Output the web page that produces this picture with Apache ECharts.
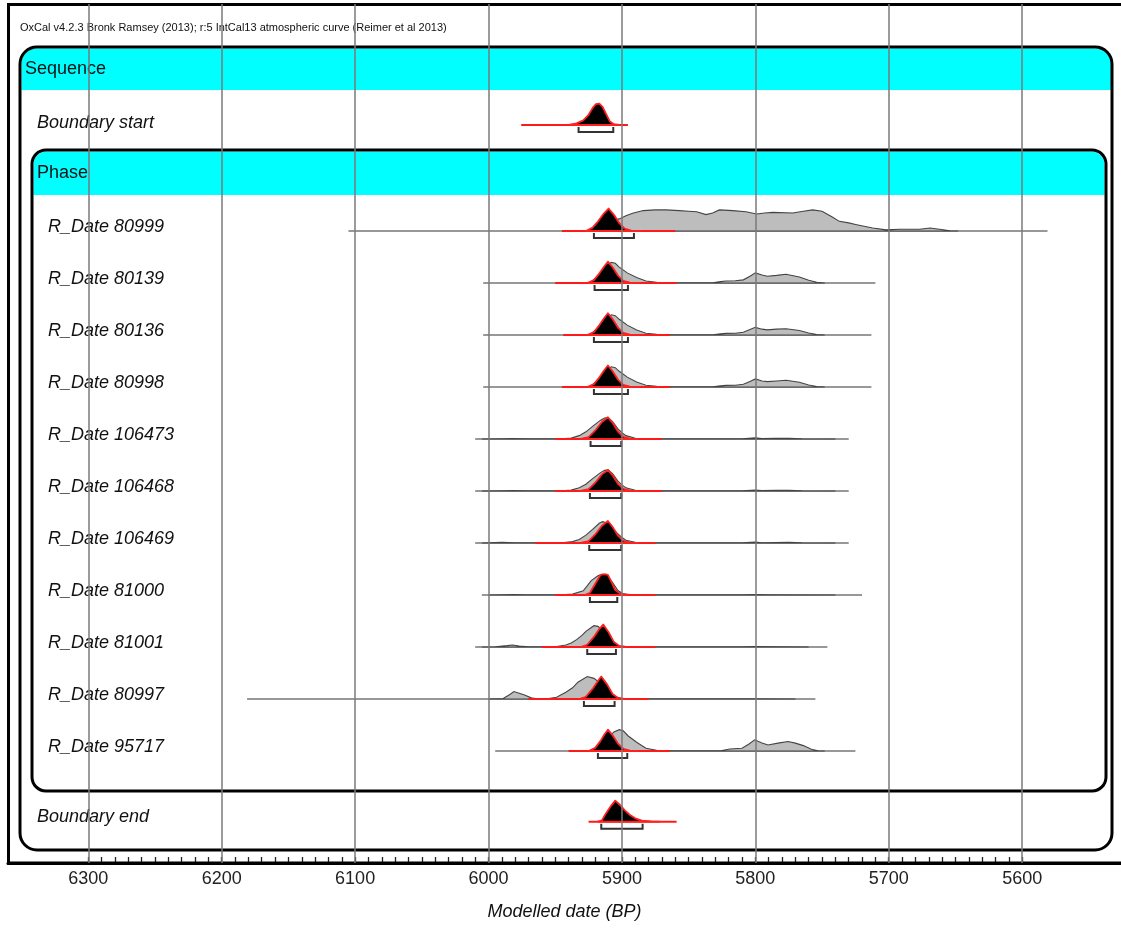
<!DOCTYPE html>
<html>
<head>
<meta charset="utf-8">
<title>OxCal sequence plot</title>
<style>
  html, body { margin: 0; padding: 0; background: #ffffff; }
  #chart { width: 1121px; height: 928px; }
</style>
<script src="https://cdn.jsdelivr.net/npm/echarts@6.0.0/dist/echarts.min.js"></script>
</head>
<body>
<div id="chart"></div>
<script>
// ---- axis ----
const tickLabels = [6300, 6200, 6100, 6000, 5900, 5800, 5700, 5600];

// ---- rows, top to bottom ----
const rowNames = [
  'Boundary start',
  'R_Date 80999', 'R_Date 80139', 'R_Date 80136', 'R_Date 80998',
  'R_Date 106473', 'R_Date 106468', 'R_Date 106469', 'R_Date 81000',
  'R_Date 81001', 'R_Date 80997', 'R_Date 95717',
  'Boundary end'
];

// full extent of each unmodelled (likelihood) distribution, cal BP
const lineRange = [
  null,
  [6105, 5581], [6004, 5710], [6004, 5713], [6004, 5713],
  [6010, 5730], [6010, 5730], [6010, 5730], [6005, 5720],
  [6010, 5746], [6181, 5755], [5995, 5725],
  null
];

// full extent of each modelled (posterior) distribution, cal BP
const postRange = [
  [5975.5, 5895.5],
  [5945, 5860], [5950, 5859], [5944, 5864], [5945, 5864],
  [5950, 5870], [5950, 5870], [5965, 5875], [5950, 5875],
  [5960, 5875], [5970, 5880], [5940, 5864],
  [5925, 5859]
];

// 68.2% highest posterior density ranges, cal BP
const hpdRange = [
  [5932.5, 5906.5],
  [5921, 5891], [5920.5, 5895.5], [5921, 5895.5], [5921, 5895.5],
  [5923.5, 5900.5], [5924, 5900.5], [5924.5, 5900.5], [5924, 5903.5],
  [5926, 5904.5], [5928.5, 5905.5], [5918, 5896],
  [5915.5, 5884.5]
];

// ---- unmodelled probability (relative), [cal BP, p] ----
const like80999 = [[5924,0],[5918,0.3],[5912,0.45],[5906,0.5],[5902,0.54],[5897,0.68],[5892,0.79],[5884,0.91],[5875,0.94],[5867,0.94],[5857,0.91],[5850,0.88],[5844,0.86],[5837,0.73],[5832,0.8],[5827,0.94],[5817,0.91],[5807,0.86],[5799,0.76],[5793,0.8],[5787,0.83],[5772,0.8],[5764,0.88],[5757,0.94],[5750,0.88],[5742,0.61],[5737,0.43],[5730,0.36],[5724,0.28],[5712,0.13],[5702,0.05],[5692,0.08],[5677,0.08],[5669,0.13],[5662,0.08],[5654,0.01],[5648,0]];
const like80139 = [[5924,0],[5918,0.3],[5913,0.7],[5908,0.92],[5905,0.88],[5902,0.71],[5896,0.45],[5889,0.24],[5882,0.09],[5874,0.03],[5862,0.01],[5832,0.01],[5826,0.06],[5822,0.09],[5815,0.1],[5809,0.14],[5804,0.3],[5800,0.45],[5795,0.36],[5791,0.3],[5784,0.34],[5777,0.39],[5767,0.27],[5760,0.12],[5754,0.03],[5748,0]];
const like80136 = [[5924,0],[5918,0.3],[5913,0.68],[5908,0.9],[5905,0.86],[5902,0.7],[5896,0.44],[5889,0.22],[5882,0.08],[5874,0.03],[5862,0.01],[5832,0.01],[5826,0.05],[5822,0.07],[5815,0.08],[5809,0.12],[5804,0.24],[5800,0.34],[5795,0.26],[5791,0.23],[5784,0.26],[5777,0.28],[5767,0.2],[5760,0.09],[5754,0.02],[5748,0]];
const like80998 = [[5924,0],[5918,0.3],[5913,0.68],[5908,0.9],[5905,0.86],[5902,0.7],[5896,0.44],[5889,0.22],[5882,0.08],[5874,0.03],[5862,0.01],[5832,0.01],[5826,0.05],[5822,0.07],[5815,0.08],[5809,0.12],[5804,0.25],[5800,0.36],[5795,0.27],[5791,0.24],[5784,0.27],[5777,0.3],[5767,0.21],[5760,0.09],[5754,0.02],[5748,0]];
const like106473 = [[6005,0],[5990,0.01],[5982,0.02],[5970,0.01],[5945,0.01],[5938,0.04],[5932,0.15],[5927,0.32],[5922,0.56],[5916,0.84],[5913,0.94],[5910.5,0.96],[5907,0.78],[5903,0.45],[5900,0.28],[5897,0.15],[5890,0.03],[5880,0.01],[5810,0.01],[5800,0.05],[5795,0.02],[5785,0.03],[5775,0.03],[5765,0.01],[5740,0]];
const like106468 = [[6005,0],[5990,0.01],[5982,0.02],[5970,0.01],[5945,0.01],[5938,0.04],[5932,0.14],[5927,0.3],[5922,0.55],[5916,0.82],[5913,0.92],[5910.5,0.94],[5907,0.77],[5903,0.44],[5900,0.27],[5897,0.14],[5890,0.03],[5880,0.01],[5810,0.01],[5800,0.04],[5795,0.02],[5785,0.03],[5775,0.03],[5765,0.01],[5740,0]];
const like106469 = [[6005,0],[5990,0.03],[5980,0.01],[5945,0.01],[5937,0.06],[5932,0.16],[5927,0.35],[5922,0.61],[5917,0.88],[5914.5,0.95],[5912,0.9],[5908,0.7],[5904,0.46],[5900,0.25],[5897,0.12],[5890,0.03],[5880,0.01],[5810,0.01],[5800,0.04],[5795,0.01],[5785,0.02],[5775,0.03],[5765,0.01],[5740,0]];
const like81000 = [[6000,0],[5990,0.01],[5981,0.02],[5972,0.01],[5945,0.01],[5937,0.04],[5929,0.19],[5923,0.64],[5918,0.86],[5915,0.92],[5911,0.88],[5907,0.55],[5903,0.2],[5899,0.05],[5892,0.01],[5810,0.01],[5800,0.02],[5790,0.01],[5740,0]];
const like81001 = [[6005,0],[5995,0.01],[5986,0.06],[5982,0.09],[5977,0.04],[5970,0.01],[5950,0.01],[5942,0.09],[5938,0.18],[5934,0.33],[5930,0.52],[5927,0.7],[5921,0.95],[5918,0.92],[5914,0.72],[5910,0.45],[5906,0.18],[5902,0.04],[5895,0.01],[5810,0.01],[5800,0.02],[5760,0]];
const like80997 = [[6000,0],[5989,0.02],[5984,0.2],[5981,0.33],[5977,0.26],[5973,0.18],[5968,0.05],[5964,0.01],[5955,0.02],[5949,0.08],[5942,0.3],[5937,0.5],[5933,0.75],[5926,1.0],[5921,0.92],[5916,0.7],[5911,0.4],[5906,0.12],[5900,0.02],[5894,0.01],[5800,0.01],[5770,0]];
const like95717 = [[5922,0],[5916,0.2],[5911,0.55],[5906,0.85],[5902,0.95],[5899,0.9],[5895.5,0.68],[5889,0.39],[5882,0.12],[5874,0.03],[5862,0.01],[5826,0.01],[5819,0.09],[5810,0.12],[5805,0.3],[5800.5,0.5],[5795,0.36],[5790.5,0.27],[5783,0.35],[5775.5,0.42],[5770,0.35],[5764,0.24],[5758,0.08],[5753,0.01],[5748,0]];

// ---- modelled probability (relative), [cal BP, p] ----
const postStart = [[5940,0],[5934,0.07],[5929,0.2],[5925,0.45],[5922,0.75],[5919.5,0.93],[5917,0.95],[5914.5,0.8],[5912,0.5],[5909,0.15],[5906,0.03],[5902,0]];
const post80999 = [[5927,0],[5922,0.15],[5918,0.42],[5914,0.75],[5910,1.0],[5906,0.72],[5902,0.35],[5898,0.1],[5893,0.02],[5886,0]];
const post80139 = [[5926,0],[5921,0.13],[5917,0.42],[5913,0.76],[5910.5,0.95],[5907,0.7],[5903,0.33],[5899,0.09],[5894,0.02],[5887,0]];
const post80136 = [[5926,0],[5921,0.13],[5917,0.43],[5913,0.78],[5910.5,0.97],[5907,0.71],[5903,0.33],[5899,0.09],[5894,0.02],[5887,0]];
const post80998 = [[5926,0],[5921,0.13],[5917,0.42],[5913,0.77],[5910.5,0.96],[5907,0.7],[5903,0.33],[5899,0.09],[5894,0.02],[5887,0]];
const post106473 = [[5931,0],[5925,0.08],[5920,0.38],[5915,0.76],[5910.5,0.97],[5907,0.72],[5903,0.33],[5899,0.1],[5894,0.02],[5888,0]];
const post106468 = [[5931,0],[5925,0.08],[5920,0.37],[5915,0.74],[5910.5,0.94],[5907,0.7],[5903,0.32],[5899,0.1],[5894,0.02],[5888,0]];
const post106469 = [[5931,0],[5925,0.08],[5920,0.38],[5915,0.77],[5910.5,0.98],[5907,0.72],[5903,0.33],[5899,0.1],[5894,0.02],[5888,0]];
const post81000 = [[5928,0],[5924,0.1],[5920,0.5],[5916,0.9],[5913,0.93],[5910.5,0.9],[5908,0.6],[5905,0.22],[5901,0.05],[5896,0]];
const post81001 = [[5931,0],[5926,0.1],[5921,0.45],[5917,0.8],[5914,1.0],[5910,0.66],[5906,0.22],[5902,0.05],[5897,0]];
const post80997 = [[5932,0],[5927,0.1],[5922,0.45],[5918,0.8],[5915.5,1.0],[5911,0.64],[5907,0.22],[5903,0.05],[5898,0]];
const post95717 = [[5925,0],[5920,0.14],[5916,0.45],[5913,0.75],[5910.5,0.95],[5907,0.7],[5903,0.33],[5899,0.1],[5894,0.02],[5888,0]];
const postEnd = [[5918,0],[5915,0.06],[5912,0.37],[5908,0.72],[5905,0.94],[5902,0.78],[5898,0.52],[5894,0.3],[5890,0.15],[5885,0.05],[5878,0.01],[5872,0]];

const likelihoods = [null, like80999, like80139, like80136, like80998, like106473, like106468, like106469, like81000, like81001, like80997, like95717, null];
const posteriors = [postStart, post80999, post80139, post80136, post80998, post106473, post106468, post106469, post81000, post81001, post80997, post95717, postEnd];

// ---- layout ----
const rowPos = [-2.04, 0, 1, 2, 3, 4, 5, 6, 7, 8, 9, 10, 11.36]; // vertical slot of each row
const rowIndent = [37, 48, 48, 48, 48, 48, 48, 48, 48, 48, 48, 48, 37];
const labelLift = [1.5, 4, 4, 4, 4, 4, 4, 4, 4, 4, 4, 4, 5]; // text centre above the row baseline, px
const DENS = 0.431;          // slot height of a probability of 1
const FONT = '"Liberation Sans", Arial, Helvetica, sans-serif';

// minor ticks every 10 years between the labelled hundreds
const minorTicks = [];
for (let v = tickLabels[tickLabels.length - 1]; v <= tickLabels[0]; v += 10) minorTicks.push(v);

function renderRow(params, api) {
  const i = params.dataIndex;
  const y0 = rowPos[i];
  const pt = (yr, p) => api.coord([yr, y0 - p * DENS]);
  const children = [];
  const basePx = api.coord([5900, y0])[1];

  if (lineRange[i]) {
    const a = api.coord([lineRange[i][0], y0]), b = api.coord([lineRange[i][1], y0]);
    children.push({ type: 'line', shape: { x1: a[0], y1: a[1], x2: b[0], y2: b[1] },
      style: { stroke: '#333333', lineWidth: 1.2 } });
  }
  const like = likelihoods[i];
  if (like) {
    children.push({ type: 'polygon', shape: { points: like.map(p => pt(p[0], p[1])) },
      style: { fill: '#bdbdbd', stroke: '#444444', lineWidth: 1.1 } });
  }
  const r = postRange[i];
  const ra = api.coord([r[0], y0]), rb = api.coord([r[1], y0]);
  children.push({ type: 'line', shape: { x1: ra[0], y1: ra[1], x2: rb[0], y2: rb[1] },
    style: { stroke: '#ff1a1a', lineWidth: 2 } });
  const post = posteriors[i];
  children.push({ type: 'polygon', shape: { points: post.map(p => pt(p[0], p[1])) },
    style: { fill: '#000000', stroke: '#ff2020', lineWidth: 1.8, lineJoin: 'round' } });

  const h = hpdRange[i];
  const ha = api.coord([h[0], y0]), hb = api.coord([h[1], y0]);
  children.push({ type: 'polyline', shape: { points: [[ha[0], basePx + 2], [ha[0], basePx + 7], [hb[0], basePx + 7], [hb[0], basePx + 2]] },
    style: { stroke: '#333333', lineWidth: 2, fill: null } });

  children.push({ type: 'text', x: rowIndent[i], y: basePx - labelLift[i],
    style: { text: rowNames[i], fontFamily: FONT, fontSize: 18, fontStyle: 'italic',
      fill: '#111111', align: 'left', verticalAlign: 'middle' } });
  return { type: 'group', children: children };
}

const chart = echarts.init(document.getElementById('chart'), null, { renderer: 'canvas' });

const option = {
  animation: false,
  backgroundColor: '#ffffff',
  grid: { left: 8, right: 0, top: 4, bottom: 65, containLabel: false },
  xAxis: {
    type: 'value', inverse: true, min: 5525.9, max: 6360.2,
    name: 'Modelled date (BP)', nameLocation: 'middle', nameGap: 40,
    nameTextStyle: { fontFamily: FONT, fontSize: 18, fontStyle: 'italic', color: '#111' },
    axisLine: { show: true, onZero: false, lineStyle: { color: '#000', width: 3 } },
    axisTick: { show: true, inside: true, length: 6, customValues: minorTicks, lineStyle: { color: '#222', width: 1.3 } },
    axisLabel: { customValues: tickLabels, formatter: v => String(v), fontFamily: FONT, fontSize: 18, color: '#222', margin: 7 },
    splitLine: { show: false }
  },
  yAxis: {
    type: 'value', inverse: true, min: -4.365, max: 12.154, show: false,
    axisLine: { show: false }, splitLine: { show: false }
  },
  graphic: { elements: [
    { type: 'rect', z: 0, shape: { x: 21.5, y: 48.5, width: 1089.5, height: 41.5, r: [15, 15, 0, 0] }, style: { fill: '#00ffff' } },
    { type: 'rect', z: 0, shape: { x: 33.5, y: 151.5, width: 1071, height: 43.5, r: [13, 13, 0, 0] }, style: { fill: '#00ffff' } },
    { type: 'rect', z: 1, shape: { x: 20, y: 47, width: 1092, height: 803, r: 17 }, style: { fill: null, stroke: '#000', lineWidth: 3 } },
    { type: 'rect', z: 1, shape: { x: 32, y: 150, width: 1074, height: 641, r: 14 }, style: { fill: null, stroke: '#000', lineWidth: 3 } },
    { type: 'rect', z: 1, shape: { x: 8.5, y: 4.5, width: 1130, height: 858.5 }, style: { fill: null, stroke: '#000', lineWidth: 3 } },
    { type: 'text', z: 1, x: 20, y: 28, style: { text: 'OxCal v4.2.3 Bronk Ramsey (2013); r:5 IntCal13 atmospheric curve (Reimer et al 2013)', fontFamily: FONT, fontSize: 11, fill: '#111', verticalAlign: 'middle' } },
    { type: 'text', z: 1, x: 25, y: 69.5, style: { text: 'Sequence', fontFamily: FONT, fontSize: 18, fill: '#111', verticalAlign: 'middle' } },
    { type: 'text', z: 1, x: 37, y: 173, style: { text: 'Phase', fontFamily: FONT, fontSize: 18, fill: '#111', verticalAlign: 'middle' } }
  ] },
  series: [
    {
      type: 'custom', name: 'distributions', z: 2,
      renderItem: renderRow,
      encode: { x: 0, y: 1 },
      data: rowNames.map((n, i) => [5900, rowPos[i]]),
      clip: false, silent: true
    },
    {
      type: 'line', name: 'grid', z: 4, data: [], silent: true,
      markLine: {
        silent: true, symbol: ['none', 'none'], animation: false,
        label: { show: false },
        lineStyle: { color: '#7a7a7a', width: 1.5, type: 'solid' },
        data: tickLabels.map(v => ({ xAxis: v }))
      }
    }
  ]
};
chart.setOption(option);
</script>
</body>
</html>
